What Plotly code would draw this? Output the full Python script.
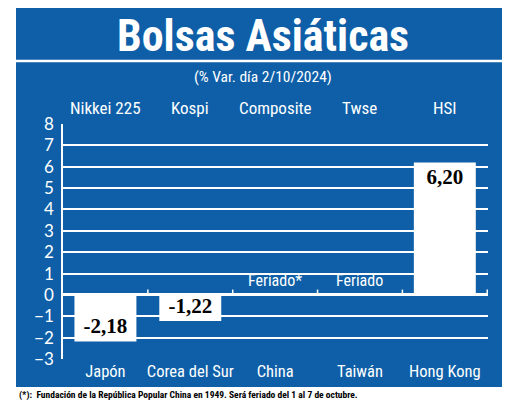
import plotly.graph_objects as go

paises = ["Japón", "Corea del Sur", "China", "Taiwán", "Hong Kong"]
indices = ["Nikkei 225", "Kospi", "Composite", "Twse", "HSI"]
var_pct = [-2.18, -1.22, None, None, 6.20]
feriados = ["", "", "Feriado*", "Feriado", ""]

AZUL = "#0e5fa8"
NARROW = "Liberation Sans Narrow, Roboto Condensed, Arial Narrow, sans-serif"

fig = go.Figure()
fig.add_trace(go.Bar(
    x=paises,
    y=var_pct,
    marker=dict(color="white", line=dict(width=0)),
    width=0.73,
    texttemplate="<b>%{y:.2f}</b>",
    textposition="inside",
    insidetextanchor="end",
    constraintext="none",
    textangle=0,
    textfont=dict(family="Liberation Serif, DejaVu Serif, serif", size=21, color="black"),
    cliponaxis=False,
    hoverinfo="skip",
))

# "Feriado" labels just above the zero line
for p, f in zip(paises, feriados):
    if f:
        fig.add_annotation(x=p, y=0, xref="x", yref="y", text=f, showarrow=False,
                           yanchor="bottom", yshift=3,
                           font=dict(family=NARROW, size=16, color="white"))

# index names on top
for p, n in zip(paises, indices):
    fig.add_annotation(x=p, y=1, xref="x", yref="paper", text=n, showarrow=False,
                       yanchor="middle", yshift=16,
                       font=dict(family=NARROW, size=17, color="white"))

# small ticks on the zero line between categories
for i in range(len(paises)):
    fig.add_shape(type="line", xref="x", yref="y", x0=i + 0.5, x1=i + 0.5, y0=0, y1=0.25,
                  line=dict(color="white", width=1.5))

# blue panel and separator
fig.add_shape(type="rect", xref="paper", yref="paper", x0=-0.1106, x1=1.0329, y0=-0.1191, y1=1.5064,
              fillcolor=AZUL, line=dict(width=0), layer="below")
fig.add_shape(type="line", xref="paper", yref="paper", x0=-0.1106, x1=1.0329, y0=1.2681, y1=1.2681,
              line=dict(color="white", width=2.5), layer="below")

fig.add_annotation(text="<b>Bolsas Asiáticas</b>", xref="paper", yref="paper", x=0.47, y=1.4936,
                   showarrow=False, yanchor="top",
                   font=dict(family=NARROW, size=44, color="white"))
fig.add_annotation(text="(% Var. día 2/10/2024)", xref="paper", yref="paper", x=0.47, y=1.2,
                   showarrow=False, yanchor="middle",
                   font=dict(family=NARROW, size=15.5, color="white"))
fig.add_annotation(text="<b>(*):  Fundación de la República Popular China en 1949. Será feriado del 1 al 7 de octubre.</b>",
                   xref="paper", yref="paper", x=-0.108, y=-0.155, xanchor="left",
                   showarrow=False, yanchor="middle",
                   font=dict(family=NARROW, size=9.5, color="black"))

# the page body adds an 8px offset, so the figure is 8px smaller on each axis
fig.update_layout(
    width=512, height=395,
    margin=dict(l=55, r=32, t=116, b=44),
    paper_bgcolor="white",
    plot_bgcolor="rgba(0,0,0,0)",
    separators=",.",
    showlegend=False,
    bargap=0.27,
)
fig.update_xaxes(
    showgrid=False, showline=False, ticks="",
    tickfont=dict(family=NARROW, size=16.5, color="white"),
    fixedrange=True,
)
fig.update_yaxes(
    range=[-3, 8], dtick=1, tick0=0,
    showgrid=True, gridcolor="white", gridwidth=1.5,
    zeroline=True, zerolinecolor="white", zerolinewidth=2.5,
    showline=True, linecolor="white", linewidth=1.5,
    ticks="", ticklabelstandoff=4,
    tickfont=dict(family="Lato, Open Sans, sans-serif", size=17, color="white"),
    fixedrange=True,
)

fig.write_html("out.html")
